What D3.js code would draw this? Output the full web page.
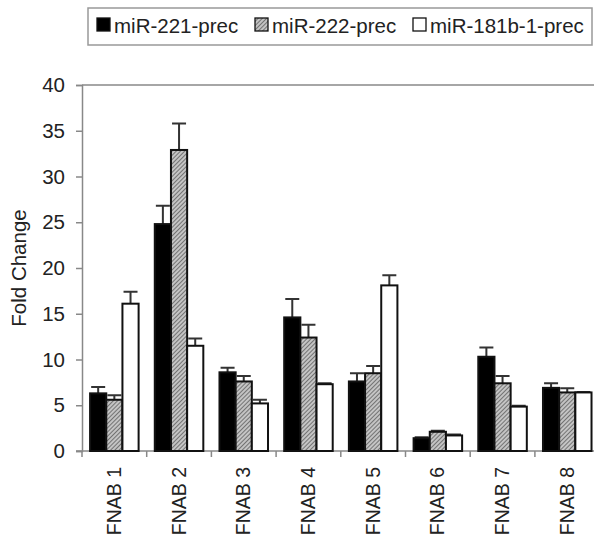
<!DOCTYPE html>
<html>
<head>
<meta charset="utf-8">
<script src="https://cdn.jsdelivr.net/npm/d3@7"></script>
<style>
  body { margin: 0; background: #fff; }
  svg { display: block; font-family: "Liberation Sans", Arial, sans-serif; }
</style>
</head>
<body>
<div id="chart"></div>
<script>
// values
const samples = ["FNAB 1", "FNAB 2", "FNAB 3", "FNAB 4", "FNAB 5", "FNAB 6", "FNAB 7", "FNAB 8"];
const seriesNames = ["miR-221-prec", "miR-222-prec", "miR-181b-1-prec"];
const mir221 = [6.3, 24.8, 8.6, 14.6, 7.6, 1.4, 10.3, 6.9];
const mir221Err = [0.7, 2.0, 0.5, 2.0, 0.9, 0.1, 1.0, 0.5];
const mir222 = [5.6, 32.9, 7.6, 12.4, 8.5, 2.1, 7.4, 6.4];
const mir222Err = [0.5, 2.9, 0.6, 1.4, 0.8, 0.1, 0.8, 0.45];
const mir181 = [16.1, 11.5, 5.2, 7.3, 18.1, 1.7, 4.85, 6.4];
const mir181Err = [1.3, 0.8, 0.4, 0.1, 1.1, 0.1, 0.1, 0.05];
const yTicks = [0, 5, 10, 15, 20, 25, 30, 35, 40];

const width = 594, height = 537;
const plotLeft = 82, plotTop = 85, plotBottom = 451;
const catW = 64.7;
const fontSize = 20.5;

const svg = d3.select("#chart").append("svg")
  .attr("width", width)
  .attr("height", height);

// hatch for the middle series
const defs = svg.append("defs");
const pat = defs.append("pattern")
  .attr("id", "hatch")
  .attr("patternUnits", "userSpaceOnUse")
  .attr("width", 3).attr("height", 3)
  .attr("patternTransform", "rotate(45)");
pat.append("rect").attr("width", 3).attr("height", 3).attr("fill", "#c4c4c4");
pat.append("line").attr("x1", 0).attr("y1", 0).attr("x2", 0).attr("y2", 3)
  .attr("stroke", "#505050").attr("stroke-width", 1.4);

const fills = ["#000", "url(#hatch)", "#fff"];
const seriesVals = [mir221, mir222, mir181];
const seriesErr = [mir221Err, mir222Err, mir181Err];

const x = d3.scaleBand()
  .domain(samples)
  .range([plotLeft, plotLeft + catW * samples.length])
  .paddingInner(0.25)
  .paddingOuter(0.125);
const xOuter = d3.scaleBand().domain(samples).range([plotLeft, plotLeft + catW * samples.length]);
const xs = d3.scaleBand().domain(d3.range(3)).range([0, x.bandwidth()]);

const y = d3.scaleLinear().domain([0, 40]).range([plotBottom, plotTop]);

// top frame line
svg.append("line")
  .attr("x1", plotLeft).attr("x2", width)
  .attr("y1", y(40)).attr("y2", y(40))
  .attr("stroke", "#888").attr("stroke-width", 1.5);

// y axis
const yAxis = svg.append("g")
  .attr("transform", `translate(${plotLeft},0)`)
  .call(d3.axisLeft(y).tickValues(yTicks).tickSize(6).tickPadding(11));
yAxis.select(".domain").attr("stroke", "#888").attr("stroke-width", 1.5);
yAxis.selectAll(".tick line").attr("stroke", "#888").attr("stroke-width", 1.5);
yAxis.selectAll("text").attr("font-size", fontSize).attr("fill", "#222")
  .attr("font-family", "Liberation Sans, Arial, sans-serif");

// x axis: ticks at category boundaries
const xAxis = svg.append("g")
  .attr("transform", `translate(0,${plotBottom})`);
xAxis.append("line")
  .attr("x1", plotLeft - 6).attr("x2", width)
  .attr("stroke", "#888").attr("stroke-width", 1.5);
xAxis.selectAll(".bt")
  .data(samples)
  .enter().append("line")
  .attr("x1", d => xOuter(d)).attr("x2", d => xOuter(d))
  .attr("y1", 0).attr("y2", 6)
  .attr("stroke", "#888").attr("stroke-width", 1.5);
xAxis.selectAll(".lbl")
  .data(samples)
  .enter().append("text")
  .attr("transform", d => `translate(${xOuter(d) + xOuter.bandwidth() / 2 + 6.5},16) rotate(-90)`)
  .attr("text-anchor", "end")
  .attr("font-size", 19.5)
  .attr("fill", "#222")
  .text(d => d);

// bars and error bars
seriesVals.forEach((vals, si) => {
  const g = svg.append("g");
  g.selectAll("path.err")
    .data(samples)
    .enter().append("path")
    .attr("d", (d, i) => {
      const cx = x(d) + xs(si) + xs.bandwidth() / 2;
      const y0 = y(vals[i]), y1 = y(vals[i] + seriesErr[si][i]);
      return `M${cx},${y0}V${y1}M${cx - 7},${y1}H${cx + 7}`;
    })
    .attr("stroke", "#333").attr("stroke-width", 2).attr("fill", "none");
  g.selectAll("rect")
    .data(samples)
    .enter().append("rect")
    .attr("x", d => x(d) + xs(si))
    .attr("y", (d, i) => y(vals[i]))
    .attr("width", xs.bandwidth())
    .attr("height", (d, i) => plotBottom - y(vals[i]))
    .attr("fill", fills[si])
    .attr("stroke", "#111").attr("stroke-width", 2);
});

// y label
svg.append("text")
  .attr("transform", `translate(26,${(plotTop + plotBottom) / 2}) rotate(-90)`)
  .attr("text-anchor", "middle")
  .attr("font-size", fontSize)
  .attr("fill", "#222")
  .text("Fold Change");

// legend
const lg = svg.append("g");
lg.append("rect")
  .attr("x", 88).attr("y", 8).attr("width", 504).attr("height", 37)
  .attr("fill", "#fff").attr("stroke", "#999").attr("stroke-width", 1.5);
const legX = [97, 255, 413];
seriesNames.forEach((name, i) => {
  lg.append("rect")
    .attr("x", legX[i]).attr("y", 18).attr("width", 13).attr("height", 13)
    .attr("fill", fills[i]).attr("stroke", "#111").attr("stroke-width", 1.3);
  lg.append("text")
    .attr("x", legX[i] + 17).attr("y", 33)
    .attr("font-size", fontSize)
    .attr("fill", "#222")
    .text(name);
});
</script>
</body>
</html>
